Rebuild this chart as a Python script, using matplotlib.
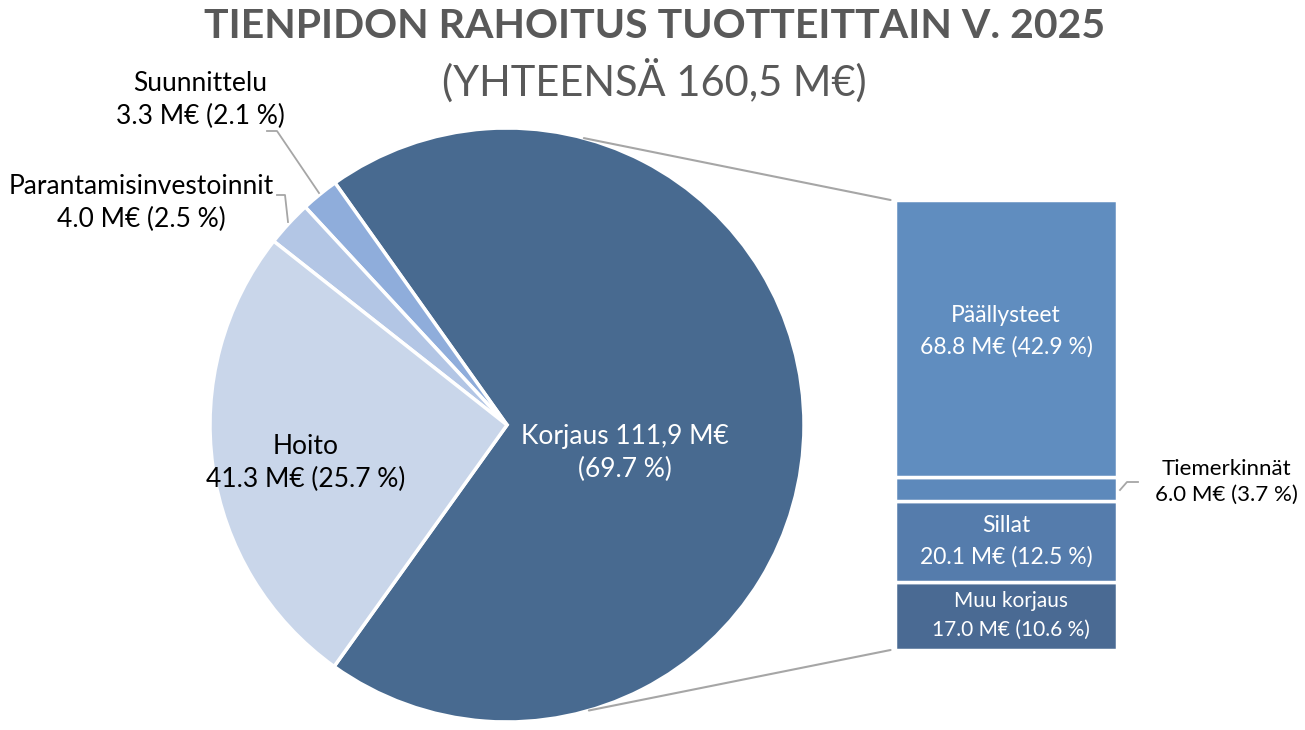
import matplotlib.pyplot as plt
import numpy as np
from matplotlib.patches import ConnectionPatch

plt.rcParams["font.family"] = ["Lato", "DejaVu Sans"]

# pie data (counterclockwise from Korjaus)
pie_labels = ["Korjaus", "Suunnittelu", "Parantamisinvestoinnit", "Hoito"]
pie_values = [111.9, 3.3, 4.0, 41.3]
pie_shares = [69.7, 2.1, 2.5, 25.7]
pie_colors = ["#486A90", "#8FADDB", "#B3C6E5", "#C9D6EA"]

# breakdown of Korjaus, bottom to top
bar_labels = ["Muu korjaus", "Sillat", "Tiemerkinnät", "Päällysteet"]
bar_values = [17.0, 20.1, 6.0, 68.8]
bar_shares = [10.6, 12.5, 3.7, 42.9]
bar_colors = ["#4A6A93", "#557CAC", "#5D89BB", "#608DBF"]

title = "TIENPIDON RAHOITUS TUOTTEITTAIN V. 2025"
subtitle = "(YHTEENSÄ 160,5 M€)"

W, H = 1305, 730
fig = plt.figure(figsize=(W / 100, H / 100), dpi=100)
ax = fig.add_axes([0, 0, 1, 1])

cx, cy, r = 507, H - 425, 297
start = -125.6
ax.pie(
    pie_values,
    colors=pie_colors,
    startangle=start,
    counterclock=True,
    center=(cx, cy),
    radius=r,
    frame=True,
    wedgeprops=dict(edgecolor="white", linewidth=2.5),
)
ax.set_xlim(0, W)
ax.set_ylim(0, H)
ax.set_aspect("equal")
ax.axis("off")

grey = "#A6A6A6"


def fmt(v, s):
    return f"{v:.1f} M€ ({s:.1f} %)"


ax.text(625, H - 453, f"Korjaus {pie_values[0]:.1f} M€".replace(".", ",") + f"\n({pie_shares[0]:.1f} %)",
        ha="center", va="center", color="white", fontsize=19, linespacing=1.4)
ax.text(306, H - 463, "Hoito\n" + fmt(pie_values[3], pie_shares[3]),
        ha="center", va="center", color="black", fontsize=19, linespacing=1.4)
ax.text(141, H - 203, "Parantamisinvestoinnit\n" + fmt(pie_values[2], pie_shares[2]),
        ha="center", va="center", color="black", fontsize=19, linespacing=1.4)
ax.text(200, H - 100, "Suunnittelu\n" + fmt(pie_values[1], pie_shares[1]),
        ha="center", va="center", color="black", fontsize=19, linespacing=1.4)

# leader lines for small slices
ax.plot([267, 277, 319], [H - 131, H - 131, H - 193], color=grey, lw=1.3)
ax.plot([277, 285, 288], [H - 195, H - 195, H - 222], color=grey, lw=1.3)

# stacked bar
bx = fig.add_axes([895 / W, (H - 650) / H, 222 / W, 450 / H])
total = sum(bar_values)
bottom = 0
for lab, v, s, c in zip(bar_labels, bar_values, bar_shares, bar_colors):
    bx.bar(0, v, bottom=bottom, width=1.0, color=c, edgecolor="white", linewidth=2.5)
    if lab != "Tiemerkinnät":
        fs = 15 if lab == "Muu korjaus" else 16.5
        xoff = 0.022 if lab == "Muu korjaus" else 0
        yoff = 1.7 if lab == "Päällysteet" else 0
        bx.text(xoff, bottom + v / 2 + yoff, f"{lab}\n{fmt(v, s)}", ha="center", va="center",
                color="white", fontsize=fs, linespacing=1.55)
    bottom += v
bx.set_xlim(-0.5, 0.5)
bx.set_ylim(0, total)
bx.axis("off")

ax.text(1226, H - 482, "Tiemerkinnät\n" + fmt(bar_values[2], bar_shares[2]),
        ha="center", va="center", color="black", fontsize=16, linespacing=1.4)
ax.plot([1120, 1127, 1138], [H - 490, H - 482, H - 482], color=grey, lw=1.3)

# connectors from pie to bar
for ang, yb in [(75.0, total), (-74.0, 0)]:
    a = np.deg2rad(ang)
    pt = (cx + r * np.cos(a), cy + r * np.sin(a))
    con = ConnectionPatch(xyA=(-0.52, yb), coordsA=bx.transData, xyB=pt, coordsB=ax.transData,
                          color=grey, lw=1.5)
    fig.add_artist(con)

fig.text(655 / W, 1 - 27 / H, title, ha="center", va="center", fontsize=29.5,
         fontweight="bold", color="#595959")
fig.text(654 / W, 1 - 81 / H, subtitle, ha="center", va="center", fontsize=30,
         color="#595959")

fig.savefig("out.png", dpi=100)
